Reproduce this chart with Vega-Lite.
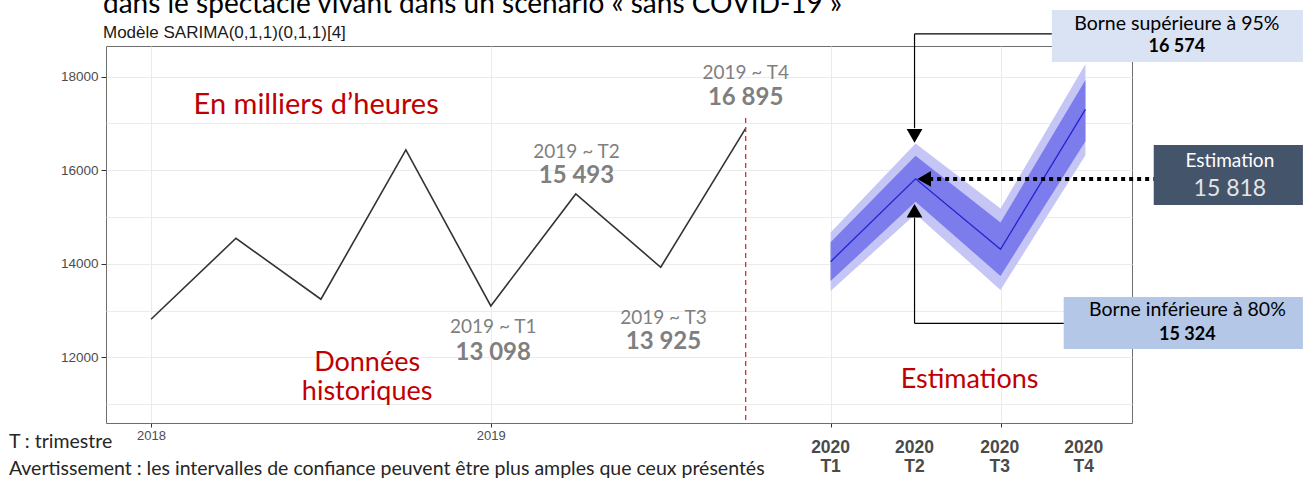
{
  "$schema": "https://vega.github.io/schema/vega-lite/v6.json",
  "width": 1026,
  "height": 377,
  "autosize": {"type": "none"},
  "padding": {"left": 106, "top": 46, "right": 171, "bottom": 57},
  "background": "white",
  "title": {
    "text": "dans le spectacle vivant dans un scénario « sans COVID-19 »",
    "subtitle": "Modèle SARIMA(0,1,1)(0,1,1)[4]",
    "anchor": "start",
    "frame": "group",
    "offset": -31,
    "dx": -3,
    "font": "Lato",
    "fontSize": 28,
    "fontWeight": "normal",
    "color": "#000000",
    "subtitleFont": "Liberation Sans",
    "subtitleFontSize": 17,
    "subtitleColor": "#1A1A1A",
    "subtitlePadding": 6
  },
  "config": {
    "view": {"stroke": "#6E6E6E", "strokeWidth": 1},
    "axis": {
      "labelFont": "Liberation Sans",
      "labelColor": "#4D4D4D",
      "tickColor": "#333333",
      "tickSize": 5,
      "domain": false
    }
  },
  "datasets": {
    "hist": [
      {"t": 2018.0, "v": 12813},
      {"t": 2018.25, "v": 14545},
      {"t": 2018.5, "v": 13241},
      {"t": 2018.75, "v": 16434},
      {"t": 2019.0, "v": 13098},
      {"t": 2019.25, "v": 15493},
      {"t": 2019.5, "v": 13925},
      {"t": 2019.75, "v": 16895}
    ],
    "fc": [
      {"t": 2020.0, "v": 14045, "lo80": 13630, "hi80": 14460, "lo95": 13420, "hi95": 14670},
      {"t": 2020.25, "v": 15818, "lo80": 15324, "hi80": 16312, "lo95": 15062, "hi95": 16574},
      {"t": 2020.5, "v": 14310, "lo80": 13740, "hi80": 14880, "lo95": 13440, "hi95": 15180},
      {"t": 2020.75, "v": 17300, "lo80": 16620, "hi80": 17930, "lo95": 16320, "hi95": 18270}
    ],
    "separation": [
      {"t": 2019.75, "v": 17119, "v2": 10595}
    ],
    "fleches": [
      {"id": "sup95", "t": 2020.247, "t2": 2020.651, "v": 18915, "v2": 18915},
      {"id": "sup95", "t": 2020.247, "t2": 2020.247, "v": 18915, "v2": 16900},
      {"id": "inf80", "t": 2020.247, "t2": 2020.686, "v": 12727, "v2": 12727},
      {"id": "inf80", "t": 2020.247, "t2": 2020.247, "v": 12727, "v2": 14985}
    ],
    "pointille": [
      {"id": "est", "t": 2020.29, "t2": 2020.951, "v": 15814, "v2": 15814}
    ],
    "pointes": [
      {"dir": "bas", "t": 2020.247, "v": 16734},
      {"dir": "haut", "t": 2020.247, "v": 15134},
      {"dir": "gauche", "t": 2020.2754, "v": 15814}
    ],
    "boites": [
      {"id": "sup95", "t": 2020.651, "t2": 2021.39, "v": 19429, "v2": 18316, "tc": 2021.019, "vl1": 19129, "vl2": 18637, "titre": "Borne supérieure à 95%", "valeur": "16 574"},
      {"id": "est", "t": 2020.951, "t2": 2021.39, "v": 16541, "v2": 15258, "tc": 2021.175, "vl1": 16199, "vl2": 15600, "titre": "Estimation", "valeur": "15 818"},
      {"id": "inf80", "t": 2020.686, "t2": 2021.39, "v": 13290, "v2": 12178, "tc": 2021.05, "vl1": 13012, "vl2": 12477, "titre": "Borne inférieure à 80%", "valeur": "15 324"}
    ],
    "etiquettes": [
      {"q": "2019 ~ T1", "val": "13 098", "t": 2019.007, "v1": 12648, "v2": 12092},
      {"q": "2019 ~ T2", "val": "15 493", "t": 2019.252, "v1": 16391, "v2": 15878},
      {"q": "2019 ~ T3", "val": "13 925", "t": 2019.508, "v1": 12841, "v2": 12327},
      {"q": "2019 ~ T4", "val": "16 895", "t": 2019.75, "v1": 18081, "v2": 17546}
    ],
    "unite": [
      {"txt": "En milliers d’heures", "t": 2018.486, "v": 17397}
    ],
    "rouges": [
      {"txt": "Données", "t": 2018.636, "v": 11878},
      {"txt": "historiques", "t": 2018.636, "v": 11258},
      {"txt": "Estimations", "t": 2020.409, "v": 11514}
    ],
    "trimestres": [
      {"an": "2020", "tr": "T1", "t": 2020.0},
      {"an": "2020", "tr": "T2", "t": 2020.247},
      {"an": "2020", "tr": "T3", "t": 2020.498},
      {"an": "2020", "tr": "T4", "t": 2020.745}
    ],
    "notes": [
      {"txt": "T : trimestre", "v": 10188},
      {"txt": "Avertissement : les intervalles de confiance peuvent être plus amples que ceux présentés", "v": 9611}
    ]
  },
  "layer": [
    {
      "data": {"name": "hist"},
      "mark": {"type": "line", "color": "#333333", "strokeWidth": 1.6},
      "encoding": {
        "x": {
          "field": "t", "type": "quantitative", "title": null,
          "scale": {"domain": [2017.8675, 2020.887], "nice": false, "zero": false},
          "axis": {
            "values": [2018, 2018.5, 2019, 2019.5, 2020, 2020.25, 2020.5],
            "format": "d",
            "labelExpr": "datum.value == 2018 || datum.value == 2019 ? datum.label : ''",
            "labelFontSize": 13,
            "labelPadding": 2,
            "tickSize": 4,
            "tickOpacity": {"condition": {"test": "datum.value == 2018.5 || datum.value == 2019.5", "value": 0}, "value": 1},
            "grid": true,
            "gridColor": "#EBEBEB",
            "gridOpacity": {"condition": {"test": "datum.value == 2020.25", "value": 0}, "value": 1}
          }
        },
        "y": {
          "field": "v", "type": "quantitative", "title": null,
          "scale": {"domain": [10595, 18657], "nice": false, "zero": false},
          "axis": {
            "values": [11000, 12000, 13000, 14000, 15000, 16000, 17000, 18000],
            "format": "d",
            "labelExpr": "datum.value % 2000 == 0 ? datum.label : ''",
            "labelFontSize": 13.5,
            "labelPadding": 3,
            "tickOpacity": {"condition": {"test": "datum.value % 2000 == 0", "value": 1}, "value": 0},
            "grid": true,
            "gridColor": "#EBEBEB"
          }
        }
      }
    },
    {
      "data": {"name": "fc"},
      "mark": {"type": "area", "color": "#C5C5F6", "opacity": 1},
      "encoding": {
        "x": {"field": "t", "type": "quantitative", "title": null, "scale": {"domain": [2017.8675, 2020.887], "nice": false, "zero": false}},
        "y": {"field": "lo95", "type": "quantitative", "title": null, "scale": {"domain": [10595, 18657], "nice": false, "zero": false}},
        "y2": {"field": "hi95"}
      }
    },
    {
      "data": {"name": "fc"},
      "mark": {"type": "area", "color": "#7C7CEC", "opacity": 1},
      "encoding": {
        "x": {"field": "t", "type": "quantitative", "title": null, "scale": {"domain": [2017.8675, 2020.887], "nice": false, "zero": false}},
        "y": {"field": "lo80", "type": "quantitative", "title": null, "scale": {"domain": [10595, 18657], "nice": false, "zero": false}},
        "y2": {"field": "hi80"}
      }
    },
    {
      "data": {"name": "fc"},
      "mark": {"type": "line", "color": "#2424CF", "strokeWidth": 1.3},
      "encoding": {
        "x": {"field": "t", "type": "quantitative", "title": null, "scale": {"domain": [2017.8675, 2020.887], "nice": false, "zero": false}},
        "y": {"field": "v", "type": "quantitative", "title": null, "scale": {"domain": [10595, 18657], "nice": false, "zero": false}}
      }
    },
    {
      "data": {"name": "separation"},
      "mark": {"type": "rule", "color": "#E8262B", "strokeWidth": 1.3, "strokeDash": [5, 4]},
      "encoding": {
        "x": {"field": "t", "type": "quantitative", "title": null, "scale": {"domain": [2017.8675, 2020.887], "nice": false, "zero": false}},
        "y": {"field": "v", "type": "quantitative", "title": null, "scale": {"domain": [10595, 18657], "nice": false, "zero": false}},
        "y2": {"field": "v2"}
      }
    },
    {
      "data": {"name": "boites"},
      "mark": {"type": "rect"},
      "encoding": {
        "x": {"field": "t", "type": "quantitative", "title": null, "scale": {"domain": [2017.8675, 2020.887], "nice": false, "zero": false}},
        "x2": {"field": "t2"},
        "y": {"field": "v", "type": "quantitative", "title": null, "scale": {"domain": [10595, 18657], "nice": false, "zero": false}},
        "y2": {"field": "v2"},
        "color": {"field": "id", "type": "nominal", "scale": {"domain": ["sup95", "est", "inf80"], "range": ["#DAE3F3", "#44546A", "#B4C7E7"]}, "legend": null}
      }
    },
    {
      "data": {"name": "fleches"},
      "mark": {"type": "rule", "color": "#000000", "strokeWidth": 1.2},
      "encoding": {
        "x": {"field": "t", "type": "quantitative", "title": null, "scale": {"domain": [2017.8675, 2020.887], "nice": false, "zero": false}},
        "x2": {"field": "t2"},
        "y": {"field": "v", "type": "quantitative", "title": null, "scale": {"domain": [10595, 18657], "nice": false, "zero": false}},
        "y2": {"field": "v2"}
      }
    },
    {
      "data": {"name": "pointille"},
      "mark": {"type": "rule", "color": "#000000", "strokeWidth": 4, "strokeDash": [4, 4]},
      "encoding": {
        "x": {"field": "t", "type": "quantitative", "title": null, "scale": {"domain": [2017.8675, 2020.887], "nice": false, "zero": false}},
        "x2": {"field": "t2"},
        "y": {"field": "v", "type": "quantitative", "title": null, "scale": {"domain": [10595, 18657], "nice": false, "zero": false}},
        "y2": {"field": "v2"}
      }
    },
    {
      "data": {"name": "pointes"},
      "mark": {"type": "point", "filled": true, "color": "#000000", "opacity": 1, "size": 250},
      "encoding": {
        "x": {"field": "t", "type": "quantitative", "title": null, "scale": {"domain": [2017.8675, 2020.887], "nice": false, "zero": false}},
        "y": {"field": "v", "type": "quantitative", "title": null, "scale": {"domain": [10595, 18657], "nice": false, "zero": false}},
        "shape": {"field": "dir", "type": "nominal", "scale": {"domain": ["bas", "haut", "gauche"], "range": ["triangle-down", "triangle-up", "triangle-left"]}, "legend": null}
      }
    },
    {
      "data": {"name": "boites"},
      "transform": [{"filter": "datum.id != 'est'"}],
      "mark": {"type": "text", "font": "Lato", "fontSize": 19.5, "baseline": "middle", "align": "center", "color": "#000000"},
      "encoding": {
        "x": {"field": "tc", "type": "quantitative", "title": null, "scale": {"domain": [2017.8675, 2020.887], "nice": false, "zero": false}},
        "y": {"field": "vl1", "type": "quantitative", "title": null, "scale": {"domain": [10595, 18657], "nice": false, "zero": false}},
        "text": {"field": "titre"}
      }
    },
    {
      "data": {"name": "boites"},
      "transform": [{"filter": "datum.id == 'est'"}],
      "mark": {"type": "text", "font": "Lato", "fontSize": 19, "baseline": "middle", "align": "center", "color": "#FFFFFF"},
      "encoding": {
        "x": {"field": "tc", "type": "quantitative", "title": null, "scale": {"domain": [2017.8675, 2020.887], "nice": false, "zero": false}},
        "y": {"field": "vl1", "type": "quantitative", "title": null, "scale": {"domain": [10595, 18657], "nice": false, "zero": false}},
        "text": {"field": "titre"}
      }
    },
    {
      "data": {"name": "boites"},
      "transform": [{"filter": "datum.id != 'est'"}],
      "mark": {"type": "text", "font": "Lato", "fontSize": 18, "fontWeight": "bold", "baseline": "middle", "align": "center", "color": "#000000"},
      "encoding": {
        "x": {"field": "tc", "type": "quantitative", "title": null, "scale": {"domain": [2017.8675, 2020.887], "nice": false, "zero": false}},
        "y": {"field": "vl2", "type": "quantitative", "title": null, "scale": {"domain": [10595, 18657], "nice": false, "zero": false}},
        "text": {"field": "valeur"}
      }
    },
    {
      "data": {"name": "boites"},
      "transform": [{"filter": "datum.id == 'est'"}],
      "mark": {"type": "text", "font": "Lato", "fontSize": 23, "baseline": "middle", "align": "center", "color": "#E4E4E4"},
      "encoding": {
        "x": {"field": "tc", "type": "quantitative", "title": null, "scale": {"domain": [2017.8675, 2020.887], "nice": false, "zero": false}},
        "y": {"field": "vl2", "type": "quantitative", "title": null, "scale": {"domain": [10595, 18657], "nice": false, "zero": false}},
        "text": {"field": "valeur"}
      }
    },
    {
      "data": {"name": "etiquettes"},
      "mark": {"type": "text", "font": "Lato", "fontSize": 19, "baseline": "middle", "align": "center", "color": "#7F7F7F"},
      "encoding": {
        "x": {"field": "t", "type": "quantitative", "title": null, "scale": {"domain": [2017.8675, 2020.887], "nice": false, "zero": false}},
        "y": {"field": "v1", "type": "quantitative", "title": null, "scale": {"domain": [10595, 18657], "nice": false, "zero": false}},
        "text": {"field": "q"}
      }
    },
    {
      "data": {"name": "etiquettes"},
      "mark": {"type": "text", "font": "Lato", "fontSize": 24, "fontWeight": "bold", "baseline": "middle", "align": "center", "color": "#7F7F7F"},
      "encoding": {
        "x": {"field": "t", "type": "quantitative", "title": null, "scale": {"domain": [2017.8675, 2020.887], "nice": false, "zero": false}},
        "y": {"field": "v2", "type": "quantitative", "title": null, "scale": {"domain": [10595, 18657], "nice": false, "zero": false}},
        "text": {"field": "val"}
      }
    },
    {
      "data": {"name": "unite"},
      "mark": {"type": "text", "font": "Lato", "fontSize": 29, "baseline": "middle", "align": "center", "color": "#C00000"},
      "encoding": {
        "x": {"field": "t", "type": "quantitative", "title": null, "scale": {"domain": [2017.8675, 2020.887], "nice": false, "zero": false}},
        "y": {"field": "v", "type": "quantitative", "title": null, "scale": {"domain": [10595, 18657], "nice": false, "zero": false}},
        "text": {"field": "txt"}
      }
    },
    {
      "data": {"name": "rouges"},
      "mark": {"type": "text", "font": "Lato", "fontSize": 27, "baseline": "middle", "align": "center", "color": "#C00000"},
      "encoding": {
        "x": {"field": "t", "type": "quantitative", "title": null, "scale": {"domain": [2017.8675, 2020.887], "nice": false, "zero": false}},
        "y": {"field": "v", "type": "quantitative", "title": null, "scale": {"domain": [10595, 18657], "nice": false, "zero": false}},
        "text": {"field": "txt"}
      }
    },
    {
      "data": {"name": "trimestres"},
      "mark": {"type": "text", "font": "Liberation Sans", "fontSize": 17.5, "fontWeight": "bold", "baseline": "middle", "align": "center", "color": "#4A4A4A"},
      "encoding": {
        "x": {"field": "t", "type": "quantitative", "title": null, "scale": {"domain": [2017.8675, 2020.887], "nice": false, "zero": false}},
        "y": {"datum": 10060, "type": "quantitative", "title": null, "scale": {"domain": [10595, 18657], "nice": false, "zero": false}},
        "text": {"field": "an"}
      }
    },
    {
      "data": {"name": "trimestres"},
      "mark": {"type": "text", "font": "Liberation Sans", "fontSize": 17.5, "fontWeight": "bold", "baseline": "middle", "align": "center", "color": "#4A4A4A"},
      "encoding": {
        "x": {"field": "t", "type": "quantitative", "title": null, "scale": {"domain": [2017.8675, 2020.887], "nice": false, "zero": false}},
        "y": {"datum": 9654, "type": "quantitative", "title": null, "scale": {"domain": [10595, 18657], "nice": false, "zero": false}},
        "text": {"field": "tr"}
      }
    },
    {
      "data": {"name": "notes"},
      "mark": {"type": "text", "font": "Lato", "fontSize": 19.5, "baseline": "middle", "align": "left", "color": "#262626"},
      "encoding": {
        "x": {"datum": 2017.5817, "type": "quantitative", "title": null, "scale": {"domain": [2017.8675, 2020.887], "nice": false, "zero": false}},
        "y": {"field": "v", "type": "quantitative", "title": null, "scale": {"domain": [10595, 18657], "nice": false, "zero": false}},
        "text": {"field": "txt"}
      }
    }
  ]
}
